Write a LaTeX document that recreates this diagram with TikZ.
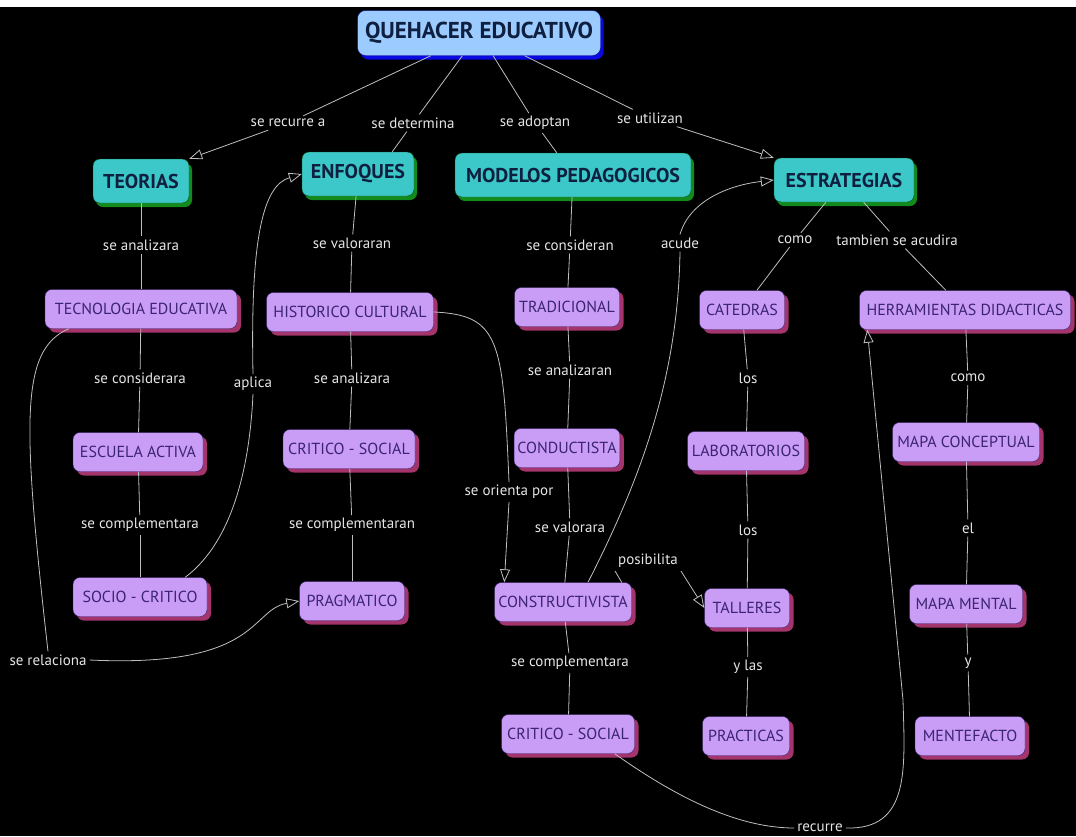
\documentclass[tikz,border=0pt]{standalone}
\usepackage{fontspec}
\setmainfont{PT Sans}
\usetikzlibrary{positioning,shadows,arrows.meta}

\definecolor{rootfill}{HTML}{9CCBFF}
\definecolor{rootshade}{HTML}{0A0AE0}
\definecolor{tealfill}{HTML}{3CC8C8}
\definecolor{greenshade}{HTML}{138A1C}
\definecolor{lilac}{HTML}{C99CF5}
\definecolor{plum}{HTML}{A3346C}
\definecolor{inkpurple}{HTML}{3B2470}
\definecolor{navytext}{HTML}{0F1F3F}

\begin{document}
\begin{tikzpicture}[x=1pt,y=-1pt,every text node part/.style={align=center}]

\tikzstyle{root} = [rounded corners=8pt,rectangle,draw=rootshade!60!black,fill=rootfill,text=navytext,font=\fontsize{23}{26}\selectfont\bfseries,minimum width=243pt,minimum height=45pt,drop shadow={shadow xshift=3pt,shadow yshift=-4pt,fill=rootshade,opacity=1}]
\tikzstyle{topic} = [rounded corners=7pt,rectangle,draw=greenshade!60!black,fill=tealfill,text=navytext,font=\fontsize{20}{23}\selectfont\bfseries,minimum height=44pt,drop shadow={shadow xshift=3pt,shadow yshift=-4pt,fill=greenshade,opacity=1}]
\tikzstyle{concept} = [rounded corners=7pt,rectangle,draw=inkpurple,fill=lilac,text=inkpurple,font=\fontsize{16}{19}\selectfont,minimum height=39pt,drop shadow={shadow xshift=4pt,shadow yshift=-4pt,fill=plum,opacity=1}]
\tikzstyle{link} = [text=white!90!black,font=\fontsize{15}{17}\selectfont,inner sep=3pt]
\tikzstyle{line} = [draw=white!75!black,line width=0.8pt]
\tikzstyle{arrow} = [line,-{Triangle[open,length=13pt,width=10pt]}]

% background
\fill[black] (0,0) rectangle (1076,836);
\fill[white] (0,0) rectangle (1076,7);

% top and first level
\node [root] (quehacer) at (479,33) {QUEHACER EDUCATIVO};
\node [topic, minimum width=96pt] (teorias) at (141,181) {TEORIAS};
\node [topic, minimum width=112pt] (enfoques) at (358,174) {ENFOQUES};
\node [topic, minimum width=236pt] (modelos) at (573,175) {MODELOS PEDAGOGICOS};
\node [topic, minimum width=140pt] (estrategias) at (844,180) {ESTRATEGIAS};

% concepts
\node [concept, minimum width=192pt] (tecnologia) at (141,309) {TECNOLOGIA EDUCATIVA};
\node [concept, minimum width=130pt] (escuela) at (138,452) {ESCUELA ACTIVA};
\node [concept, minimum width=134pt] (socio) at (140,597) {SOCIO - CRITICO};

\node [concept, minimum width=167pt] (historico) at (350,312) {HISTORICO CULTURAL};
\node [concept, minimum width=132pt] (critico1) at (349,449) {CRITICO - SOCIAL};
\node [concept, minimum width=105pt] (pragmatico) at (352,601) {PRAGMATICO};

\node [concept, minimum width=105pt] (tradicional) at (567,307) {TRADICIONAL};
\node [concept, minimum width=105pt] (conductista) at (567,448) {CONDUCTISTA};
\node [concept, minimum width=137pt] (constructivista) at (563,602) {CONSTRUCTIVISTA};
\node [concept, minimum width=133pt] (critico2) at (568,734) {CRITICO - SOCIAL};

\node [concept, minimum width=85pt] (catedras) at (742,310) {CATEDRAS};
\node [concept, minimum width=117pt] (laboratorios) at (746,451) {LABORATORIOS};
\node [concept, minimum width=85pt] (talleres) at (747,608) {TALLERES};
\node [concept, minimum width=87pt] (practicas) at (746,736) {PRACTICAS};

\node [concept, minimum width=211pt] (herramientas) at (965,310) {HERRAMIENTAS DIDACTICAS};
\node [concept, minimum width=147pt] (conceptual) at (966,442) {MAPA CONCEPTUAL};
\node [concept, minimum width=113pt] (mental) at (966,604) {MAPA MENTAL};
\node [concept, minimum width=110pt] (mentefacto) at (970,736) {MENTEFACTO};

% linking words
\node [link] (recurrea) at (288,123) {se recurre a};
\node [link] (determina) at (413,123) {se determina};
\node [link] (adoptan) at (535,123) {se adoptan};
\node [link] (utilizan) at (650,118) {se utilizan};
\node [link] (analizara1) at (141,245) {se analizara};
\node [link] (valoraran) at (352,243) {se valoraran};
\node [link] (consideran) at (570,245) {se consideran};
\node [link] (acude) at (680,243) {acude};
\node [link] (como1) at (795,240) {como};
\node [link] (tambien) at (897,240) {tambien se acudira};
\node [link] (considerara) at (140,378) {se considerara};
\node [link] (aplica) at (253,384) {aplica};
\node [link] (analizara2) at (352,378) {se analizara};
\node [link] (analizaran) at (570,370) {se analizaran};
\node [link] (los1) at (748,378) {los};
\node [link] (como2) at (968,378) {como};
\node [link] (complementara1) at (140,525) {se complementara};
\node [link] (complementaran) at (352,525) {se complementaran};
\node [link] (orienta) at (509,492) {se orienta por};
\node [link] (valorara) at (570,527) {se valorara};
\node [link] (los2) at (748,530) {los};
\node [link] (el) at (968,528) {el};
\node [link] (posibilita) at (648,561) {posibilita};
\node [link] (relaciona) at (48,660) {se relaciona};
\node [link] (complementara2) at (570,663) {se complementara};
\node [link] (ylas) at (748,667) {y las};
\node [link] (y) at (968,663) {y};
\node [link] (recurre) at (820,828) {recurre};

% connectors from the top
\draw [line] (quehacer) -- (recurrea);
\draw [arrow] (recurrea) -- (teorias.north east);
\draw [line] (quehacer) -- (determina);
\draw [line] (determina) -- ([xshift=-22pt]enfoques.north east);
\draw [line] (quehacer) -- (adoptan);
\draw [line] (adoptan) -- (modelos);
\draw [line] (quehacer) -- (utilizan);
\draw [arrow] (utilizan) -- (estrategias.north west);

% columns
\draw [line] (teorias) -- (analizara1);
\draw [line] (analizara1) -- (tecnologia);
\draw [line] (tecnologia) -- (considerara);
\draw [line] (considerara) -- (escuela);
\draw [line] (escuela) -- (complementara1);
\draw [line] (complementara1) -- (socio);

\draw [line] (enfoques) -- (valoraran);
\draw [line] (valoraran) -- (historico);
\draw [line] (historico) -- (analizara2);
\draw [line] (analizara2) -- (critico1);
\draw [line] (critico1) -- (complementaran);
\draw [line] (complementaran) -- (pragmatico);

\draw [line] (modelos) -- (consideran);
\draw [line] (consideran) -- (tradicional);
\draw [line] (tradicional) -- (analizaran);
\draw [line] (analizaran) -- (conductista);
\draw [line] (conductista) -- (valorara);
\draw [line] (valorara) -- (constructivista);
\draw [line] (constructivista) -- (complementara2);
\draw [line] (complementara2) -- (critico2);

\draw [line] (estrategias) -- (como1);
\draw [line] (como1) -- (catedras);
\draw [line] (catedras) -- (los1);
\draw [line] (los1) -- (laboratorios);
\draw [line] (laboratorios) -- (los2);
\draw [line] (los2) -- (talleres);
\draw [line] (talleres) -- (ylas);
\draw [line] (ylas) -- (practicas);

\draw [line] (estrategias) -- (tambien);
\draw [line] (tambien) -- (herramientas);
\draw [line] (herramientas) -- (como2);
\draw [line] (como2) -- (conceptual);
\draw [line] (conceptual) -- (el);
\draw [line] (el) -- (mental);
\draw [line] (mental) -- (y);
\draw [line] (y) -- (mentefacto);

% cross links
\draw [line] ([xshift=-22pt]socio.north east) .. controls (235,540) and (250,460) .. (aplica.south);
\draw [arrow] (aplica.north) .. controls (250,230) and (265,185) .. (enfoques.west);

\draw [line] ([xshift=24pt]tecnologia.south west) .. controls (20,350) and (22,420) .. (relaciona.north);
\draw [arrow] (relaciona.east) .. controls (260,668) and (250,610) .. (pragmatico.west);

\draw [line] (historico.east) .. controls (500,315) and (503,340) .. (orienta.north);
\draw [arrow] (orienta.south) -- ([xshift=10pt]constructivista.north west);

\draw [line] ([xshift=25pt]constructivista.north) .. controls (640,480) and (678,380) .. (acude.south);
\draw [arrow] (acude.north) .. controls (690,200) and (730,185) .. (estrategias.west);

\draw [line] ([xshift=-10pt]constructivista.north east) -- (posibilita.south west);
\draw [arrow] (posibilita.south east) -- (talleres.west);

\coordinate (rbend) at (903,700);
\draw [line] ([xshift=-20pt]critico2.south east) .. controls (680,800) and (740,828) .. (recurre.west);
\draw [arrow] (recurre.east) .. controls (910,830) and (905,770) .. (rbend) -- ([xshift=8pt]herramientas.south west);

\end{tikzpicture}
\end{document}
